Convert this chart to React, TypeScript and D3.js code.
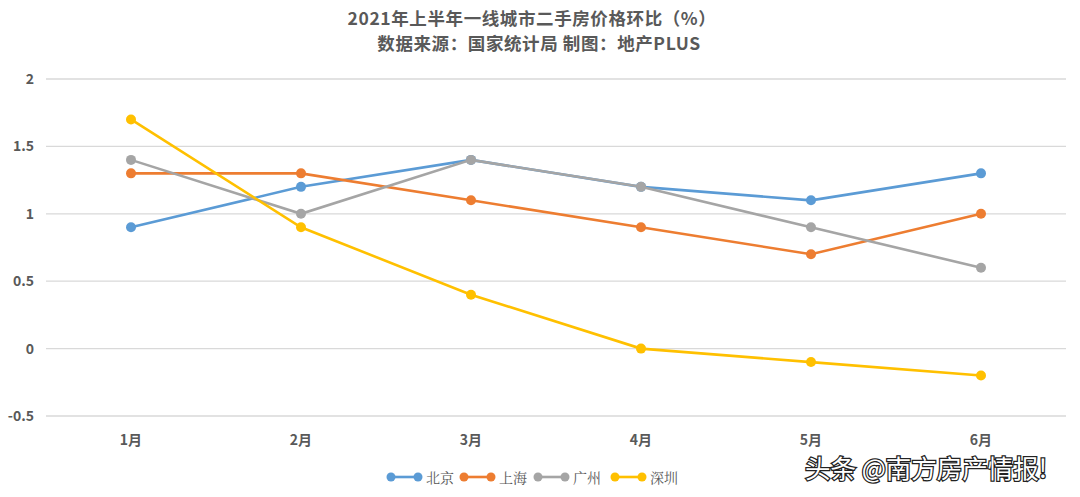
import React from "react";
import * as d3 from "d3";

const months = ["1月", "2月", "3月", "4月", "5月", "6月"];
const seriesNames = ["北京", "上海", "广州", "深圳"];
const beijing = [0.9, 1.2, 1.4, 1.2, 1.1, 1.3];
const shanghai = [1.3, 1.3, 1.1, 0.9, 0.7, 1.0];
const guangzhou = [1.4, 1.0, 1.4, 1.2, 0.9, 0.6];
const shenzhen = [1.7, 0.9, 0.4, 0.0, -0.1, -0.2];
const yTicks = [-0.5, 0, 0.5, 1, 1.5, 2];
const colors = ["#5B9BD5", "#ED7D31", "#A5A5A5", "#FFC000"];

const W = 1080;
const H = 497;
const FONT = "'Noto Sans CJK SC', 'Noto Sans', sans-serif";

export default function App() {
  const x = d3.scaleBand<string>().domain(months).range([46, 1066]);
  const y = d3.scaleLinear().domain([-0.5, 2]).range([416, 79]);
  const data = [beijing, shanghai, guangzhou, shenzhen];
  const line = d3
    .line<number>()
    .x((_, i) => (x(months[i]) as number) + x.bandwidth() / 2)
    .y((d) => y(d));

  const legendX = [388, 461, 535, 612];

  return (
    <svg
      width={W}
      height={H}
      style={{ position: "absolute", left: 0, top: 0, background: "#fff" }}
      fontFamily={FONT}
    >
      <rect width={W} height={H} fill="#fff" />
      <text x={532} y={25} textAnchor="middle" fontSize={17.5} fontWeight="bold" fill="#595959" letterSpacing={0.6}>
        2021年上半年一线城市二手房价格环比（%）
      </text>
      <text x={539} y={50} textAnchor="middle" fontSize={17.5} fontWeight="bold" fill="#595959" letterSpacing={0.6}>
        数据来源：国家统计局 制图：地产PLUS
      </text>

      {yTicks.map((t) => (
        <g key={t}>
          <line x1={46} x2={1066} y1={y(t)} y2={y(t)} stroke="#D9D9D9" strokeWidth={1.3} />
          <text x={34} y={y(t) + 5} textAnchor="end" fontSize={14} fontWeight="bold" fill="#595959">
            {t}
          </text>
        </g>
      ))}

      {months.map((m) => (
        <text
          key={m}
          x={(x(m) as number) + x.bandwidth() / 2}
          y={445}
          textAnchor="middle"
          fontSize={14}
          fontWeight="bold"
          fill="#595959"
        >
          {m}
        </text>
      ))}

      {data.map((vals, si) => (
        <g key={si}>
          <path d={line(vals) || ""} fill="none" stroke={colors[si]} strokeWidth={2.6} />
          {vals.map((v, i) => (
            <circle
              key={i}
              cx={(x(months[i]) as number) + x.bandwidth() / 2}
              cy={y(v)}
              r={5}
              fill={colors[si]}
            />
          ))}
        </g>
      ))}

      {seriesNames.map((n, i) => (
        <g key={n}>
          <line x1={legendX[i] + 3} x2={legendX[i] + 30} y1={477} y2={477} stroke={colors[i]} strokeWidth={2.6} />
          <circle cx={legendX[i] + 3} cy={477} r={4.5} fill={colors[i]} />
          <circle cx={legendX[i] + 30} cy={477} r={4.5} fill={colors[i]} />
          <text x={legendX[i] + 38} y={482.5} fontSize={14} fill="#595959" fontFamily="'Noto Serif CJK SC', serif">
            {n}
          </text>
        </g>
      ))}

      <text
        x={805}
        y={478}
        textAnchor="start"
        fontSize={25.5}
        fill="#fff"
        stroke="#222"
        strokeWidth={2.5}
        paintOrder="stroke"
        fontFamily={FONT}
      >
        头条 @南方房产情报!
      </text>
    </svg>
  );
}
